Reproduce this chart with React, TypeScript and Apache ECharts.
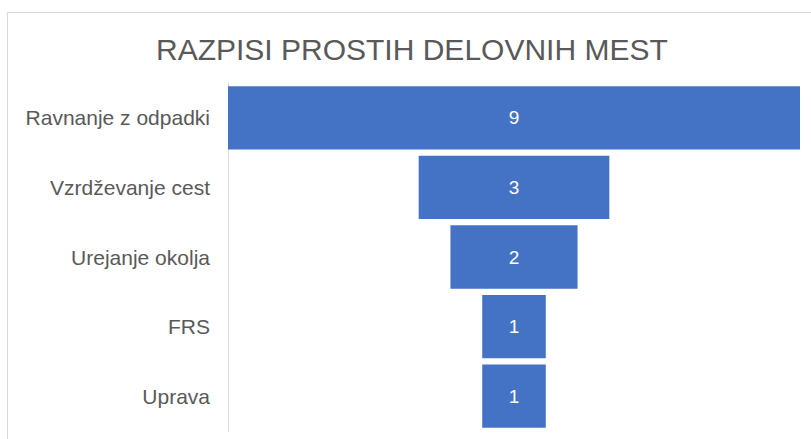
import React, { useEffect, useRef } from "react";
import * as echarts from "echarts";

const titleText = "RAZPISI PROSTIH DELOVNIH MEST";
const categories = ["Ravnanje z odpadki", "Vzrdževanje cest", "Urejanje okolja", "FRS", "Uprava"];
const values = [9, 3, 2, 1, 1];

export default function App() {
  const ref = useRef<HTMLDivElement>(null);
  useEffect(() => {
    if (!ref.current) return;
    const chart = echarts.init(ref.current, null, { renderer: "svg" });
    const maxV = Math.max(...values);
    const offsets = values.map((v) => (maxV - v) / 2);
    chart.setOption({
      animation: false,
      backgroundColor: "#ffffff",
      title: {
        text: titleText,
        left: 151,
        top: 29,
        textStyle: {
          fontFamily: "Liberation Sans",
          fontSize: 30,
          fontWeight: "normal",
          color: "#595959",
        },
      },
      graphic: [
        {
          type: "rect",
          shape: { x: 7.5, y: 12.5, width: 820, height: 440 },
          style: { fill: "none", stroke: "#d9d9d9", lineWidth: 1 },
          silent: true,
        },
      ],
      grid: { left: 228, right: 11, top: 83, bottom: 8, containLabel: false },
      xAxis: {
        type: "value",
        min: 0,
        max: maxV,
        show: false,
      },
      yAxis: {
        type: "category",
        data: categories,
        inverse: true,
        axisLine: { show: true, lineStyle: { color: "#d9d9d9", width: 1 } },
        axisTick: { show: false },
        axisLabel: {
          margin: 18,
          fontFamily: "Liberation Sans",
          fontSize: 21,
          color: "#595959",
        },
      },
      series: [
        {
          type: "bar",
          stack: "funnel",
          data: offsets,
          itemStyle: { color: "transparent" },
          silent: true,
          barCategoryGap: "9%",
        },
        {
          type: "bar",
          stack: "funnel",
          data: values,
          barCategoryGap: "9%",
          itemStyle: { color: "#4472C4" },
          label: {
            show: true,
            position: "inside",
            color: "#ffffff",
            fontFamily: "Liberation Sans",
            fontSize: 19,
          },
        },
      ],
    });
    return () => chart.dispose();
  }, []);
  return (
    <div
      ref={ref}
      style={{ position: "fixed", left: 0, top: 0, width: 811, height: 439 }}
    />
  );
}
